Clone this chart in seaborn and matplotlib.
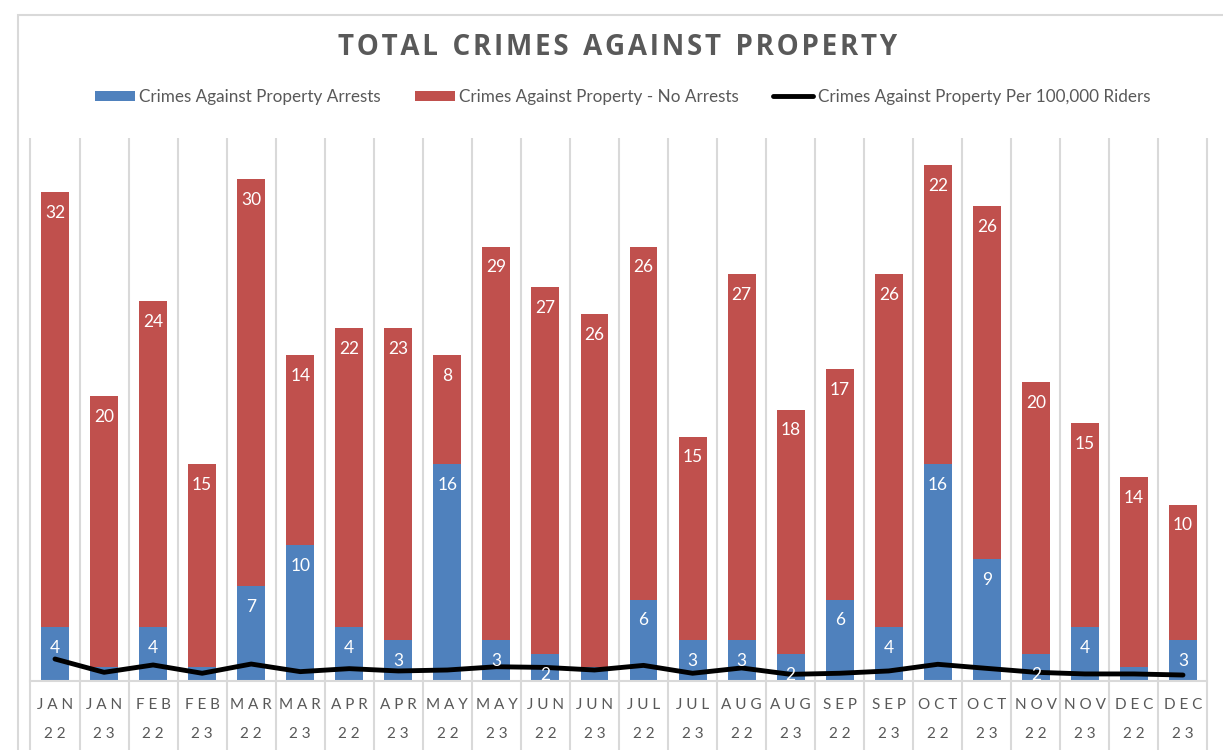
import numpy as np
import pandas as pd
import seaborn as sns
import matplotlib
matplotlib.use("Agg")
import matplotlib.pyplot as plt
from matplotlib.lines import Line2D
from matplotlib.patches import Patch, Rectangle

months = ["JAN", "JAN", "FEB", "FEB", "MAR", "MAR", "APR", "APR", "MAY", "MAY", "JUN", "JUN",
          "JUL", "JUL", "AUG", "AUG", "SEP", "SEP", "OCT", "OCT", "NOV", "NOV", "DEC", "DEC"]
years = ["22", "23"] * 12
arrests = [4, 1, 4, 1, 7, 10, 4, 3, 16, 3, 2, 1, 6, 3, 3, 2, 6, 4, 16, 9, 2, 4, 1, 3]
no_arrests = [32, 20, 24, 15, 30, 14, 22, 23, 8, 29, 27, 26, 26, 15, 27, 18, 17, 26, 22, 26, 20, 15, 14, 10]
per_100k = [1.62, 0.64, 1.18, 0.57, 1.25, 0.69, 0.91, 0.74, 0.81, 1.05, 1.0, 0.81,
            1.15, 0.57, 0.96, 0.49, 0.57, 0.74, 1.23, 0.93, 0.64, 0.52, 0.52, 0.44]

BLUE = "#4F81BD"
RED = "#C0504D"
GRAY = "#D9D9D9"
TXT = "#595959"

sns.set_theme(style="white")
plt.rcParams["font.family"] = ["Lato", "DejaVu Sans"]

labels = [f"{m} {y}" for m, y in zip(months, years)]
df = pd.DataFrame({"period": labels, "arrests": arrests, "no_arrests": no_arrests,
                   "total": np.array(arrests) + np.array(no_arrests), "rate": per_100k})
df["idx"] = np.arange(len(df))

fig = plt.figure(figsize=(12.23, 7.5), dpi=100)
ax = fig.add_axes([30.5 / 1223, 1 - 681 / 750, 1177 / 1223, 543 / 750])

sns.barplot(data=df, x="period", y="total", color=RED, width=0.57, saturation=1,
            ax=ax, order=labels, edgecolor="none")
sns.barplot(data=df, x="period", y="arrests", color=BLUE, width=0.57, saturation=1,
            ax=ax, order=labels, edgecolor="none")
sns.lineplot(x=df["idx"], y=df["rate"], color="black", lw=3.5, ax=ax, sort=False,
             solid_capstyle="round", solid_joinstyle="round", zorder=5)

ax.set_xlim(-0.5, 23.5)
ax.set_ylim(0, 40)
ax.set_xlabel("")
ax.set_ylabel("")
ax.set_yticks([])
for s in ["top", "left", "right"]:
    ax.spines[s].set_visible(False)
ax.spines["bottom"].set_color(GRAY)
ax.spines["bottom"].set_linewidth(1.5)

# category separators (extend through label area)
bounds = np.arange(-0.5, 24, 1.0)
ax.vlines(bounds, -0.13, 1.0, transform=ax.get_xaxis_transform(), colors=GRAY,
          lw=1.5, clip_on=False, zorder=0)

# tick labels
ax.set_xticks(range(len(labels)))
ax.set_xticklabels([" ".join(m) + "\n\n" + " ".join(y) for m, y in zip(months, years)],
                   fontsize=11, color=TXT, linespacing=1.05)
ax.tick_params(axis="x", length=0, pad=12)

# data labels
for i, (a, n) in enumerate(zip(arrests, no_arrests)):
    total = a + n
    ax.annotate(str(n), (i, total), xytext=(0, -15), textcoords="offset points",
                ha="center", va="center", color="white", fontsize=12.5)
    if a > 1:
        ax.annotate(str(a), (i, a), xytext=(0, -15), textcoords="offset points",
                    ha="center", va="center", color="white", fontsize=12.5, zorder=6)

# title (letter-spaced)
title = "TOTAL CRIMES AGAINST PROPERTY"
spaced = "  ".join("\u200a".join(w) for w in title.split(" "))
fig.text(0.505, 0.937, spaced, ha="center", va="center",
         fontsize=20, fontweight="bold", color=TXT, family=["Open Sans", "DejaVu Sans"])

# legend
handles = [Patch(facecolor=BLUE, edgecolor="none"),
           Patch(facecolor=RED, edgecolor="none"),
           Line2D([0], [0], color="black", lw=3.5)]
names = ["Crimes Against Property Arrests", "Crimes Against Property - No Arrests",
         "Crimes Against Property Per 100,000 Riders"]
leg = fig.legend(handles, names, loc="center", bbox_to_anchor=(0.509, 0.871), ncol=3,
                 frameon=False, fontsize=12.3, handlelength=2.35, handleheight=0.55,
                 handletextpad=0.25, columnspacing=2.0)
for t in leg.get_texts():
    t.set_color(TXT)

# chart border
fig.patches.append(Rectangle((18 / 1223, -0.1), 1.2, 1.1 - 15 / 750, transform=fig.transFigure,
                             fill=False, edgecolor=GRAY, lw=1.5, zorder=0))

fig.savefig("out.png", dpi=100, facecolor="white")
